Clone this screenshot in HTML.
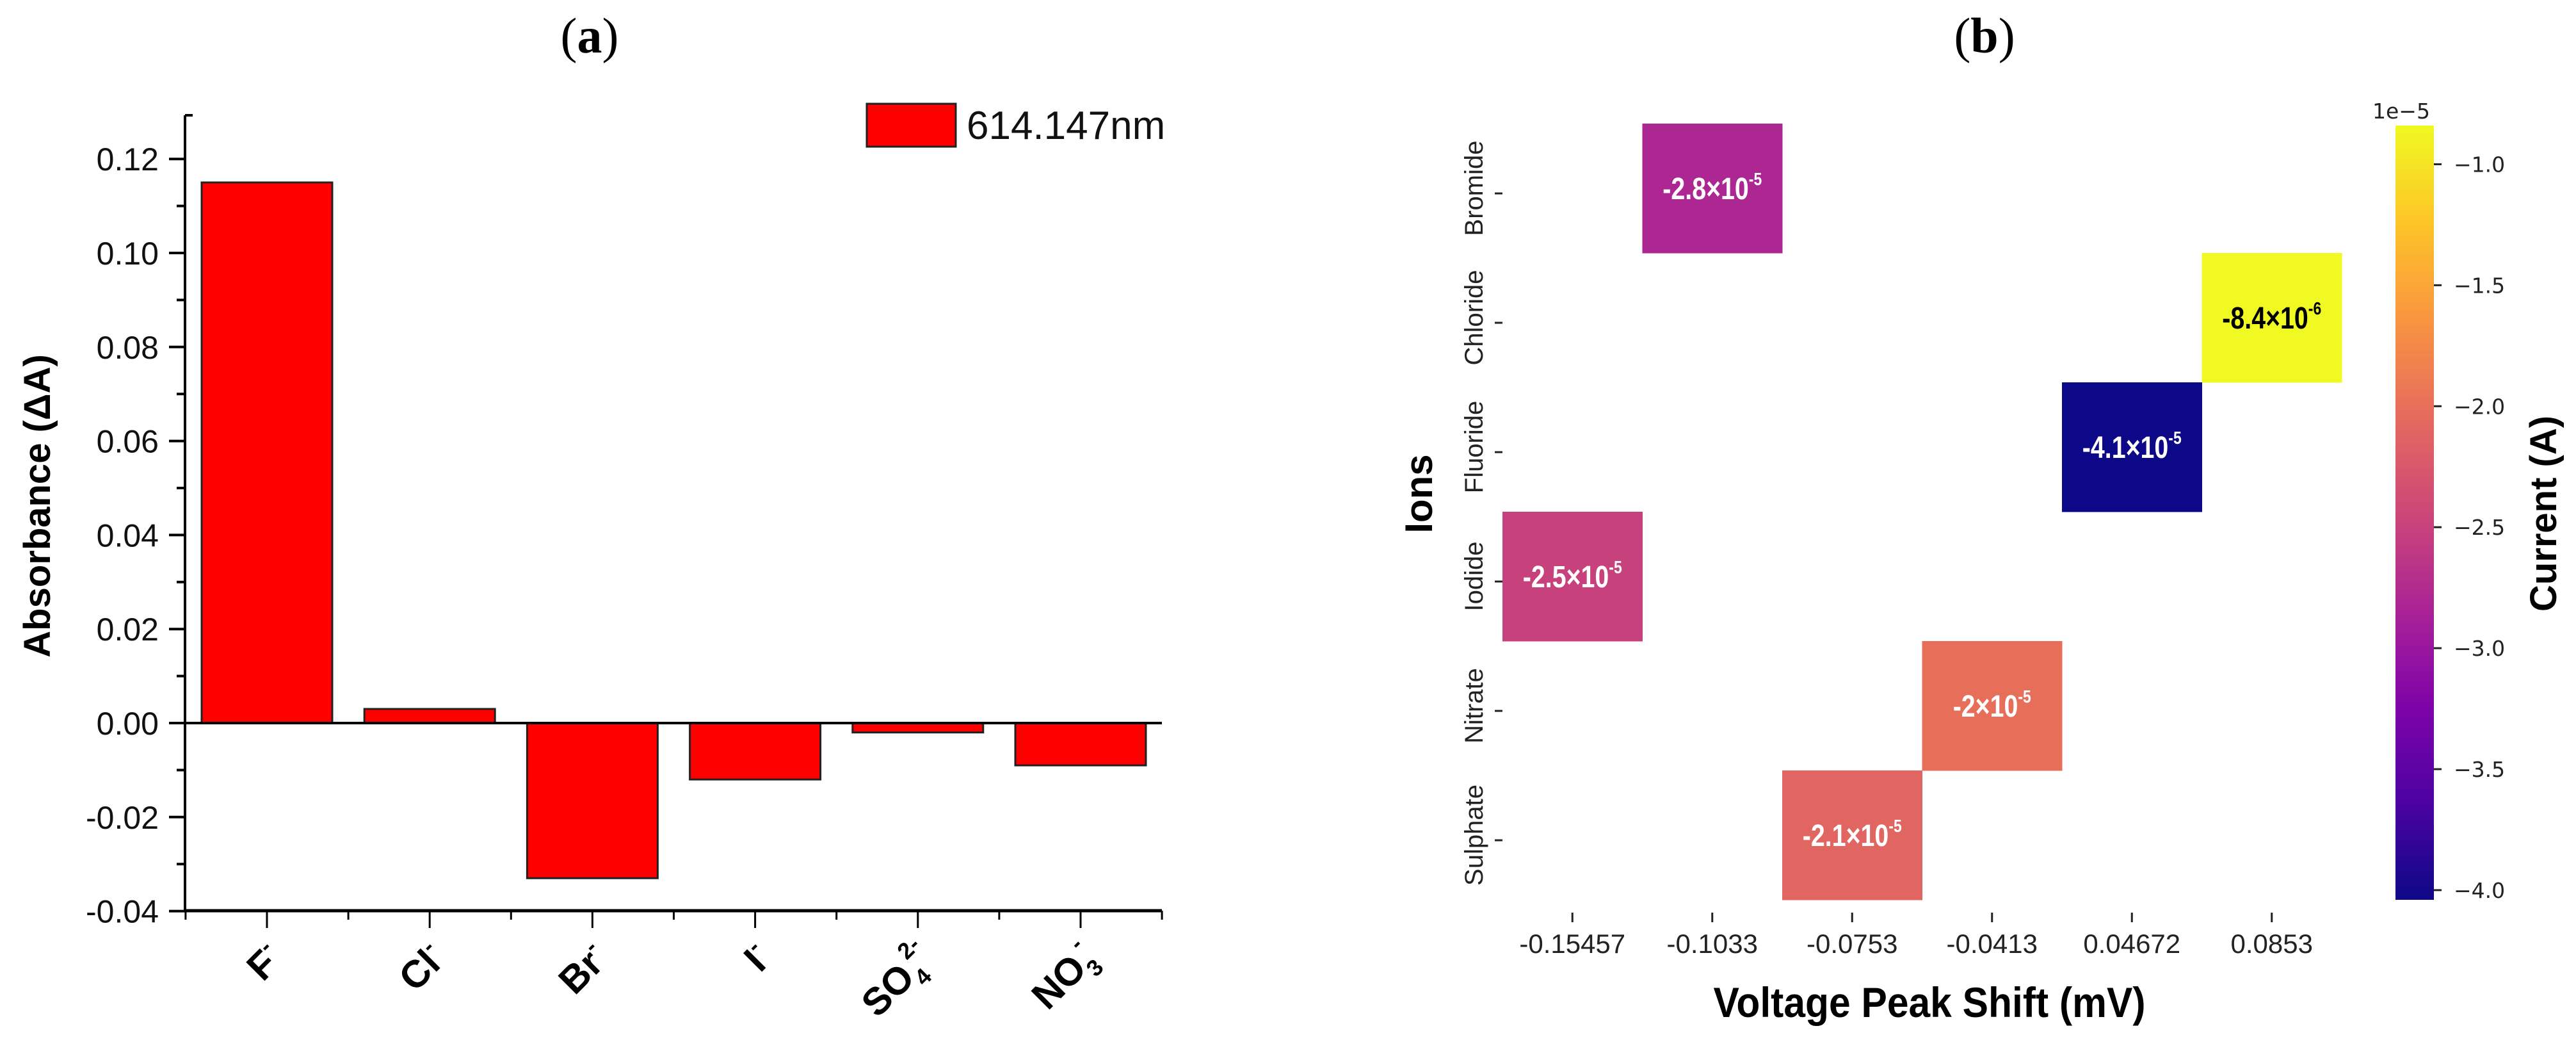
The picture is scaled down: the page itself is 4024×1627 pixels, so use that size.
<!DOCTYPE html>
<html><head><meta charset="utf-8"><style>
html,body{margin:0;padding:0;background:#fff;}
svg{display:block;}
</style></head><body>
<svg id="fig" width="4024" height="1627" viewBox="0 0 4024 1627" xmlns="http://www.w3.org/2000/svg">
<g id="panelA"></g>
<g id="panelB"></g>
</svg>
<script>
// ---- Panel (a) data ----
const barCategories = ["F", "Cl", "Br", "I", "SO4", "NO3"];
const barValues = [0.115, 0.003, -0.033, -0.012, -0.002, -0.009];
const yTickValues = [-0.04, -0.02, 0.00, 0.02, 0.04, 0.06, 0.08, 0.10, 0.12];
const yTickLabels = ["-0.04", "-0.02", "0.00", "0.02", "0.04", "0.06", "0.08", "0.10", "0.12"];
const legendLabel = "614.147nm";

// ---- Panel (b) data ----
const ionLabels = ["Bromide", "Chloride", "Fluoride", "Iodide", "Nitrate", "Sulphate"];
const shiftLabels = ["-0.15457", "-0.1033", "-0.0753", "-0.0413", "0.04672", "0.0853"];
const cellRow = [0, 1, 2, 3, 4, 5];
const cellCol = [1, 5, 4, 0, 3, 2];
const cellMantissa = [-2.8, -8.4, -4.1, -2.5, -2.0, -2.1];
const cellExponent = [-5, -6, -5, -5, -5, -5];
const cellText = ["-2.8×10", "-8.4×10", "-4.1×10", "-2.5×10", "-2×10", "-2.1×10"];
const cbTicks = [-1.0, -1.5, -2.0, -2.5, -3.0, -3.5, -4.0];
const cbTickLabels = ["−1.0", "−1.5", "−2.0", "−2.5", "−3.0", "−3.5", "−4.0"];

const NS = "http://www.w3.org/2000/svg";
function mk(parent, tag, attrs, text) {
  const e = document.createElementNS(NS, tag);
  for (const k in attrs) e.setAttribute(k, attrs[k]);
  if (text !== undefined) e.textContent = text;
  parent.appendChild(e);
  return e;
}
const SANS = "'Liberation Sans', Arial, sans-serif";
const DEJA = "'DejaVu Sans', sans-serif";
const SERIF = "'Liberation Serif', serif";

// ================= Panel A =================
const A = document.getElementById('panelA');
const ax = {x0: 289, x1: 1815, yTop: 180, yBot: 1422};
function yA(v) { return 1129 - v / 0.02 * 146.8; }
function xA(i) { return 417 + i * 254.2; }

let t = mk(A, 'text', {x: 921, y: 82, 'text-anchor': 'middle', 'font-family': SERIF, 'font-size': 78}, '');


mk(t, 'tspan', {}, '(');
mk(t, 'tspan', {'font-weight': 'bold'}, 'a');
mk(t, 'tspan', {}, ')');

barValues.forEach((v, i) => {
  const y0 = yA(0), y1 = yA(v);
  const r = mk(A, 'rect', {x: xA(i) - 102, y: Math.min(y0, y1), width: 204, height: Math.abs(y1 - y0), fill: '#ff0000', stroke: '#222', 'stroke-width': 3});
  
  
});
let zl = mk(A, 'line', {x1: ax.x0, x2: ax.x1, y1: yA(0), y2: yA(0), stroke: '#000', 'stroke-width': 4});


let yl = mk(A, 'line', {x1: ax.x0, x2: ax.x0, y1: ax.yTop, y2: ax.yBot, stroke: '#000', 'stroke-width': 4});


let xl = mk(A, 'line', {x1: ax.x0 - 2, x2: ax.x1, y1: ax.yBot, y2: ax.yBot, stroke: '#000', 'stroke-width': 5});


mk(A, 'line', {x1: ax.x0, x2: ax.x0 + 12, y1: ax.yTop, y2: ax.yTop, stroke: '#000', 'stroke-width': 4});
yTickValues.forEach((v, i) => {
  const y = yA(v);
  mk(A, 'line', {x1: ax.x0 - 25, x2: ax.x0, y1: y, y2: y, stroke: '#000', 'stroke-width': 4});
  if (i < yTickValues.length - 1) {
    const ym = yA(v + 0.01);
    mk(A, 'line', {x1: ax.x0 - 13, x2: ax.x0, y1: ym, y2: ym, stroke: '#000', 'stroke-width': 4});
  }
  const l = mk(A, 'text', {x: 248, y: y + 18, 'text-anchor': 'end', 'font-family': SANS, 'font-size': 50, fill: '#111'}, yTickLabels[i]);
  
  
});
let yt = mk(A, 'text', {x: 0, y: 0, transform: 'translate(78,790) rotate(-90)', 'text-anchor': 'middle', 'font-family': SANS, 'font-size': 58, 'font-weight': 'bold'}, 'Absorbance (ΔA)');


for (let i = 0; i <= barCategories.length; i++) {
  const xb = xA(i) - 127.1;
  mk(A, 'line', {x1: xb, x2: xb, y1: ax.yBot, y2: ax.yBot + 14, stroke: '#000', 'stroke-width': 3});
}
const subs = {"F": ["F", "-", ""], "Cl": ["Cl", "-", ""], "Br": ["Br", "-", ""], "I": ["I", "-", ""], "SO4": ["SO", "2-", "4"], "NO3": ["NO", "-", "3"]};
barCategories.forEach((c, i) => {
  const x = xA(i);
  mk(A, 'line', {x1: x, x2: x, y1: ax.yBot, y2: ax.yBot + 27, stroke: '#000', 'stroke-width': 3});
  const s = subs[c];
  const lab = mk(A, 'text', {x: 0, y: 0, transform: 'translate(' + (x + 28) + ',1500) rotate(-45)', 'text-anchor': 'end', 'font-family': SANS, 'font-size': 60, 'font-weight': 'bold'}, '');
  
  
  mk(lab, 'tspan', {}, s[0]);
  if (s[2]) {
    mk(lab, 'tspan', {'font-size': 36, dy: 16}, s[2]);
    mk(lab, 'tspan', {'font-size': 36, dy: -48, dx: -10}, s[1]);
  } else {
    mk(lab, 'tspan', {'font-size': 36, dy: -26}, s[1]);
  }
});
let lg = mk(A, 'g', {});


mk(lg, 'rect', {x: 1354, y: 162, width: 139, height: 67, fill: '#ff0000', stroke: '#222', 'stroke-width': 3});
mk(lg, 'text', {x: 1510, y: 217, 'font-family': SANS, 'font-size': 62, fill: '#111'}, legendLabel);

// ================= Panel B =================
const B = document.getElementById('panelB');
const hm = {x0: 2347, y0: 193, cw: 218.5, rh: 202};
function xB(c) { return hm.x0 + c * hm.cw; }
function yB(r) { return hm.y0 + r * hm.rh; }
const vmin = -4.04, vmax = -0.84;
const plasma = ["#0d0887", "#4c02a1", "#7e03a8", "#a92395", "#cc4778", "#e56b5d", "#f89540", "#fdc527", "#f0f921"];
function hex2rgb(h) { return [1, 3, 5].map(k => parseInt(h.substr(k, 2), 16)); }
function cmap(tt) {
  tt = Math.max(0, Math.min(1, tt));
  const p = tt * (plasma.length - 1), i = Math.min(Math.floor(p), plasma.length - 2), f = p - i;
  const a = hex2rgb(plasma[i]), b = hex2rgb(plasma[i + 1]);
  return 'rgb(' + a.map((v, k) => Math.round(v + (b[k] - v) * f)).join(',') + ')';
}

let tb = mk(B, 'text', {x: 3100, y: 82, 'text-anchor': 'middle', 'font-family': SERIF, 'font-size': 78}, '');


mk(tb, 'tspan', {}, '(');
mk(tb, 'tspan', {'font-weight': 'bold'}, 'b');
mk(tb, 'tspan', {}, ')');

cellRow.forEach((r, i) => {
  const c = cellCol[i];
  const v = cellMantissa[i] * Math.pow(10, cellExponent[i] + 5);
  const col = cmap((v - vmin) / (vmax - vmin));
  const rc = mk(B, 'rect', {x: xB(c), y: yB(r), width: hm.cw + 0.5, height: hm.rh + 0.5, fill: col});
  
  
  const tc = (v > -1.5) ? '#000' : '#fff';
  const g = mk(B, 'g', {transform: 'translate(' + (xB(c) + hm.cw / 2) + ',' + (yB(r) + hm.rh / 2 + 17) + ') scale(0.82,1)'});
  const tx = mk(g, 'text', {x: 0, y: 0, 'text-anchor': 'middle', 'font-family': SANS, 'font-size': 48, 'font-weight': 'bold', fill: tc}, '');
  
  
  mk(tx, 'tspan', {}, cellText[i]);
  mk(tx, 'tspan', {'font-size': 28, dy: -22}, String(cellExponent[i]));
});
ionLabels.forEach((n, r) => {
  const y = yB(r) + hm.rh / 2;
  mk(B, 'line', {x1: 2335, x2: 2347, y1: y + 8, y2: y + 8, stroke: '#222', 'stroke-width': 3});
  const l = mk(B, 'text', {x: 0, y: 0, transform: 'translate(2316,' + y + ') rotate(-90)', 'text-anchor': 'middle', 'font-family': SANS, 'font-size': 40, fill: '#222'}, n);
  
  
});
shiftLabels.forEach((n, c) => {
  const x = xB(c) + hm.cw / 2;
  mk(B, 'line', {x1: x, x2: x, y1: 1425, y2: 1440, stroke: '#222', 'stroke-width': 3});
  const l = mk(B, 'text', {x: x, y: 1488, 'text-anchor': 'middle', 'font-family': SANS, 'font-size': 42, fill: '#222'}, n);
  
  
});
let ions = mk(B, 'text', {x: 0, y: 0, transform: 'translate(2237,771) rotate(-90)', 'text-anchor': 'middle', 'font-family': SANS, 'font-size': 60, 'font-weight': 'bold'}, 'Ions');


let xt = mk(B, 'text', {x: 3014, y: 1588, 'text-anchor': 'middle', 'font-family': SANS, 'font-size': 66, 'font-weight': 'bold', textLength: 675, lengthAdjust: 'spacingAndGlyphs'}, 'Voltage Peak Shift (mV)');



const defs = mk(B, 'defs', {});
const grad = mk(defs, 'linearGradient', {id: 'cbg', x1: 0, y1: 1, x2: 0, y2: 0});
for (let k = 0; k <= 16; k++) mk(grad, 'stop', {offset: k / 16, 'stop-color': cmap(k / 16)});
const cb = {x: 3742, w: 60, top: 196, bot: 1405};
function yCB(v) { return cb.top + (vmax - v) / (vmax - vmin) * (cb.bot - cb.top); }
let cbr = mk(B, 'rect', {x: cb.x, y: cb.top, width: cb.w, height: cb.bot - cb.top, fill: 'url(#cbg)'});


cbTicks.forEach((v, i) => {
  const y = yCB(v);
  mk(B, 'line', {x1: cb.x + cb.w, x2: cb.x + cb.w + 12, y1: y, y2: y, stroke: '#222', 'stroke-width': 3});
  const l = mk(B, 'text', {x: 3833, y: y + 12, 'font-family': DEJA, 'font-size': 33, fill: '#222'}, cbTickLabels[i]);
  
  
});
let off = mk(B, 'text', {x: 3706, y: 185, 'font-family': DEJA, 'font-size': 33, fill: '#222'}, '1e−5');


let ct = mk(B, 'text', {x: 0, y: 0, transform: 'translate(3993,802) rotate(-90)', 'text-anchor': 'middle', 'font-family': SANS, 'font-size': 58, 'font-weight': 'bold'}, 'Current (A)');


</script>
</body></html>
